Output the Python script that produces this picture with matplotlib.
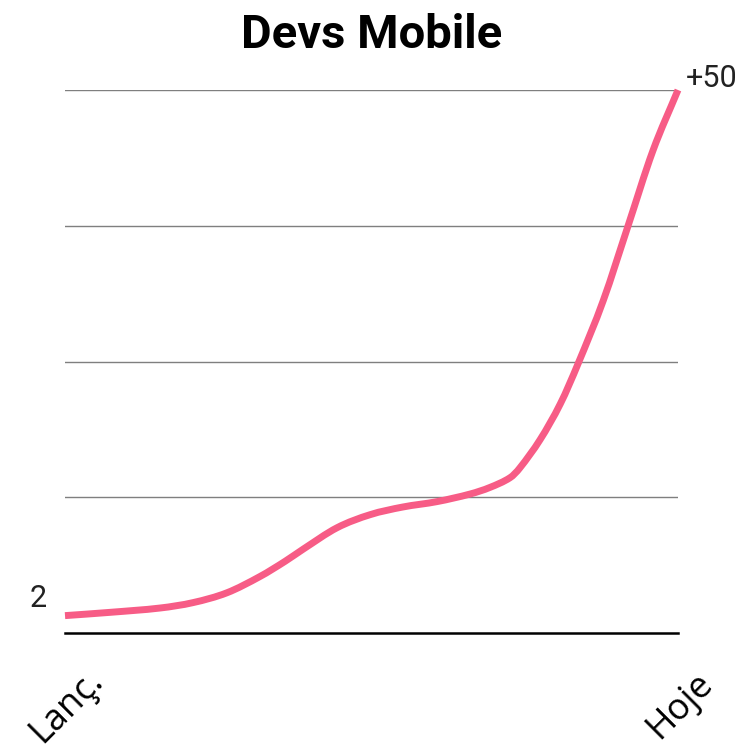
import matplotlib
matplotlib.use("Agg")
import matplotlib.pyplot as plt
from matplotlib.path import Path
from matplotlib.patches import PathPatch

title = "Devs Mobile"
x_labels = ["Lanç.", "Hoje"]
x_label_pos = [0, 100]
start_label = "2"
end_label = "+50"
grid_levels = [12.5, 25, 37.5, 50]

# progress (0 = launch, 100 = today) and developer count
progress = [0, 7.3, 15.5, 20.9, 26.4, 31.8, 35.9, 38.8, 44.4, 49.8, 55.1, 60.7,
            66.1, 69.3, 72.6, 74.2, 77.5, 80.8, 83.7, 87.8, 91.8, 95.9, 100]
devs = [1.6, 1.9, 2.3, 2.8, 3.7, 5.2, 6.6, 7.7, 9.7, 10.9, 11.6, 12.1,
        12.8, 13.4, 14.3, 15.2, 17.8, 21.1, 24.8, 30.6, 37.4, 44.4, 50]


def smooth_path(xs, ys):
    """Cubic Hermite curve through the data points, as Bezier segments."""
    n = len(xs)
    m = []
    for i in range(n):
        if i == 0:
            m.append((ys[1] - ys[0]) / (xs[1] - xs[0]))
        elif i == n - 1:
            m.append((ys[-1] - ys[-2]) / (xs[-1] - xs[-2]))
        else:
            m.append((ys[i + 1] - ys[i - 1]) / (xs[i + 1] - xs[i - 1]))
    verts = [(xs[0], ys[0])]
    codes = [Path.MOVETO]
    for i in range(n - 1):
        h = xs[i + 1] - xs[i]
        verts += [(xs[i] + h / 3, ys[i] + m[i] * h / 3),
                  (xs[i + 1] - h / 3, ys[i + 1] - m[i + 1] * h / 3),
                  (xs[i + 1], ys[i + 1])]
        codes += [Path.CURVE4] * 3
    return Path(verts, codes)


fig = plt.figure(figsize=(7.45, 7.53), dpi=100)
ax = fig.add_axes([65/745, 1-633/753, (678-65)/745, (633-90)/753])
ax.set_xlim(0, 100)
ax.set_ylim(0, 50)
for s in ax.spines.values():
    s.set_visible(False)
ax.set_xticks([])
ax.set_yticks([])

for g in grid_levels:
    ax.axhline(g, color="#7f7f7f", lw=1.0, zorder=1)
ax.axhline(0, color="black", lw=1.8, zorder=1, clip_on=False)

patch = PathPatch(smooth_path(progress, devs), fill=False, edgecolor="#f75c86",
                  lw=5.0, capstyle="butt", joinstyle="round", zorder=3,
                  clip_on=False)
ax.add_patch(patch)

ax.text(-3.0, devs[0] + 1.6, start_label, ha="right", va="center",
        fontsize=22, family="Roboto", fontweight="normal", color="#222222")
ax.text(1.3 + 100, 51.1, end_label, ha="left", va="center",
        fontsize=22, family="Roboto", fontweight="normal", color="#222222")

for pos, lab in zip(x_label_pos, x_labels):
    ax.text(pos + 0.3, -6.7, lab, ha="center", va="center", rotation=45,
            fontsize=26, family="Open Sans", color="black",
            rotation_mode="anchor")

fig.text(371.5/745, 1-35/753, title, ha="center", va="center",
         fontsize=34, family="Roboto", fontweight="bold", color="black")

fig.savefig("out.png", dpi=100, facecolor="white")
